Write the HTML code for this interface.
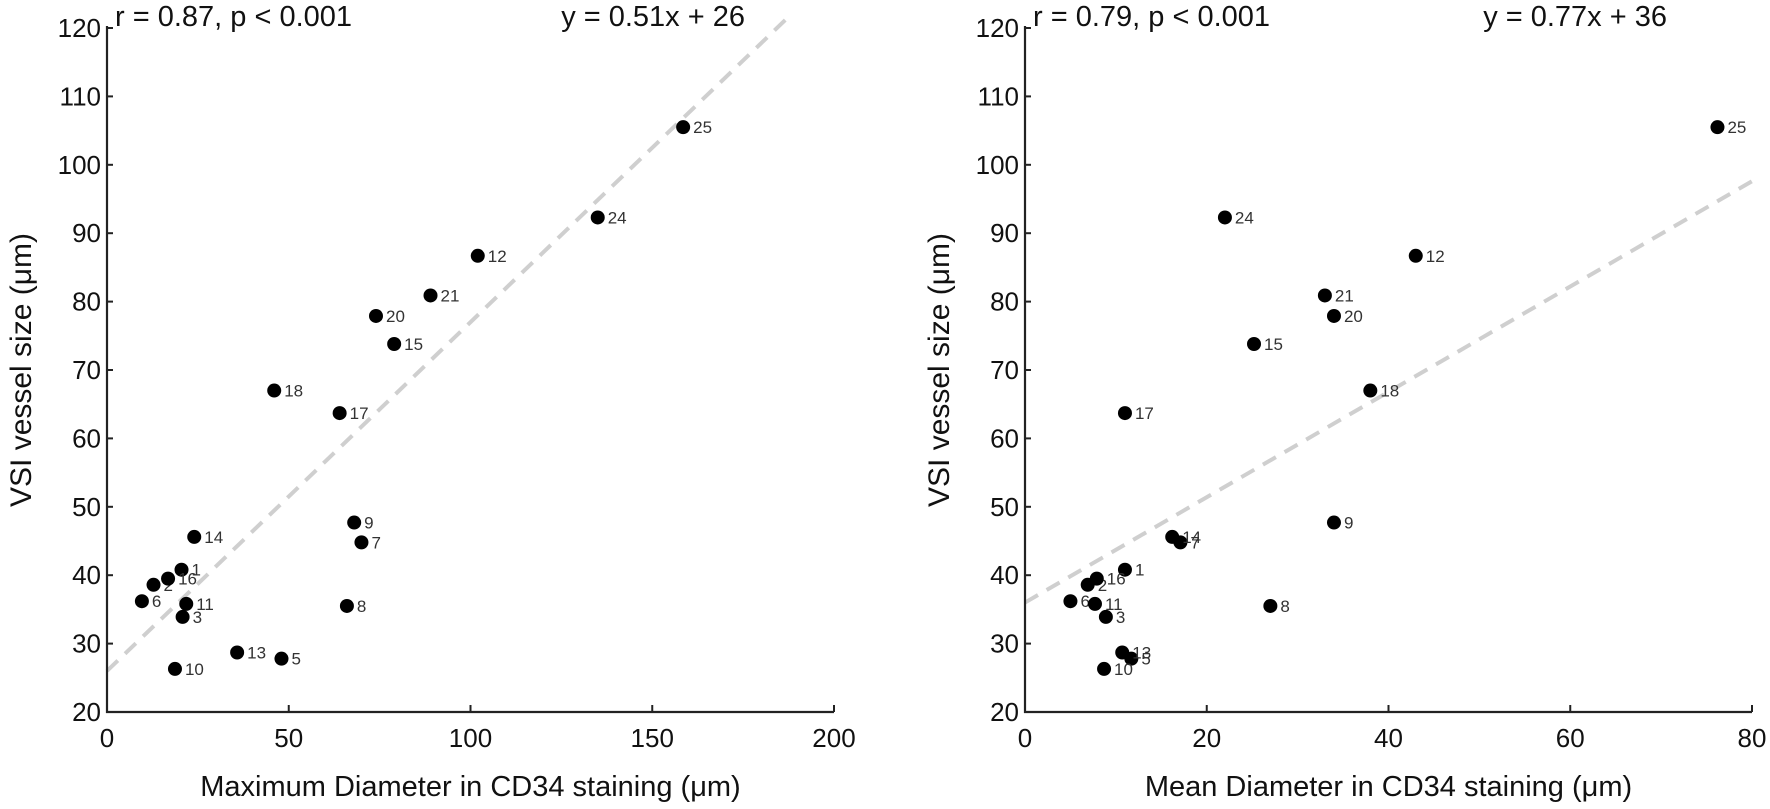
<!DOCTYPE html>
<html><head><meta charset="utf-8"><style>
html,body{margin:0;padding:0;background:#fff}
svg{display:block;font-family:"Liberation Sans",sans-serif}
</style></head><body>
<svg id="chart" width="1770" height="809" viewBox="0 0 1770 809"></svg>
<script>
const ids = [1,2,3,5,6,7,8,9,10,11,12,13,14,15,16,17,18,20,21,24,25];
const vsi = [40.8,38.6,33.9,27.8,36.2,44.8,35.5,47.7,26.3,35.8,86.7,28.7,45.6,73.8,39.5,63.7,67.0,77.9,80.9,92.3,105.5];
const maxDiam = [20.5,12.8,20.8,48,9.6,70,66,68,18.7,21.8,102,35.8,24,79,16.8,64,46,74,89,135,158.5];
const meanDiam = [11,6.9,8.9,11.7,5,17.1,27,34,8.7,7.7,43,10.7,16.2,25.2,7.9,11,38,34,33,22,76.2];
const yTicks = [20,30,40,50,60,70,80,90,100,110,120];
const xTicksLeft = [0,50,100,150,200];
const xTicksRight = [0,20,40,60,80];
const fitLeft = [0.51,26,188];
const fitRight = [0.77,36,80];

const NS="http://www.w3.org/2000/svg";
const svg=document.getElementById('chart');
function mk(tag,attrs,parent){const e=document.createElementNS(NS,tag);for(const k in attrs)e.setAttribute(k,attrs[k]);(parent||svg).appendChild(e);return e;}

function panel(opt){
  const g=mk('g',{});
  
  
  const xs=v=>opt.x0+(v-opt.xmin)/(opt.xmax-opt.xmin)*(opt.x1-opt.x0);
  const ys=v=>712-(v-20)/100*684;
  const fl=mk('line',{x1:xs(0),y1:ys(opt.fit[1]),x2:xs(opt.fit[2]),y2:ys(opt.fit[0]*opt.fit[2]+opt.fit[1]),stroke:'#cfcfcf','stroke-width':4,'stroke-dasharray':'15 10'},g);
  
  
  const ya=mk('line',{x1:opt.x0,y1:26,x2:opt.x0,y2:713,stroke:'#222','stroke-width':2.2},g);
  
  
  const xa=mk('line',{x1:opt.x0-1,y1:712,x2:opt.x1,y2:712,stroke:'#222','stroke-width':2.2},g);
  
  
  yTicks.forEach(t=>{
    mk('line',{x1:opt.x0,y1:ys(t),x2:opt.x0+6,y2:ys(t),stroke:'#222','stroke-width':2},g);
    const tl=mk('text',{x:opt.x0-6,y:ys(t)+9,'text-anchor':'end','font-size':26,fill:'#111'},g);
    tl.textContent=t;
    
    
  });
  opt.xticks.forEach(t=>{
    mk('line',{x1:xs(t),y1:712,x2:xs(t),y2:705,stroke:'#222','stroke-width':2},g);
    const tl=mk('text',{x:xs(t),y:747,'text-anchor':'middle','font-size':26,fill:'#111'},g);
    tl.textContent=t;
    
    
  });
  const xt=mk('text',{x:(opt.x0+opt.x1)/2,y:796,'text-anchor':'middle','font-size':29,fill:'#111'},g);
  xt.textContent=opt.xtitle;
  
  
  const yt=mk('text',{x:0,y:0,'text-anchor':'middle','font-size':30,fill:'#111',transform:`translate(${opt.x0-76},370) rotate(-90)`},g);
  yt.textContent='VSI vessel size (μm)';
  
  
  const a1=mk('text',{x:opt.x0+8,y:26,'font-size':29,fill:'#111'},g);
  a1.textContent=opt.rtext;
  
  
  const a2=mk('text',{x:opt.eqEnd,y:26,'text-anchor':'end','font-size':29,fill:'#111'},g);
  a2.textContent=opt.eq;
  
  
  opt.xv.forEach((v,i)=>{
    const c=mk('circle',{cx:xs(v),cy:ys(vsi[i]),r:7,fill:'#000'},g);
    
    
    const l=mk('text',{x:xs(v)+10,y:ys(vsi[i])+6,'font-size':17,fill:'#333'},g);
    l.textContent=ids[i];
    
    
  });
}
panel({name:'max-diameter-panel',x0:107,x1:834,xmin:0,xmax:200,xticks:xTicksLeft,xv:maxDiam,fit:fitLeft,
  xtitle:'Maximum Diameter in CD34 staining (μm)',rtext:'r = 0.87, p < 0.001',eq:'y = 0.51x + 26',eqEnd:745});
panel({name:'mean-diameter-panel',x0:1025,x1:1752,xmin:0,xmax:80,xticks:xTicksRight,xv:meanDiam,fit:fitRight,
  xtitle:'Mean Diameter in CD34 staining (μm)',rtext:'r = 0.79, p < 0.001',eq:'y = 0.77x + 36',eqEnd:1667});
</script>
</body></html>
